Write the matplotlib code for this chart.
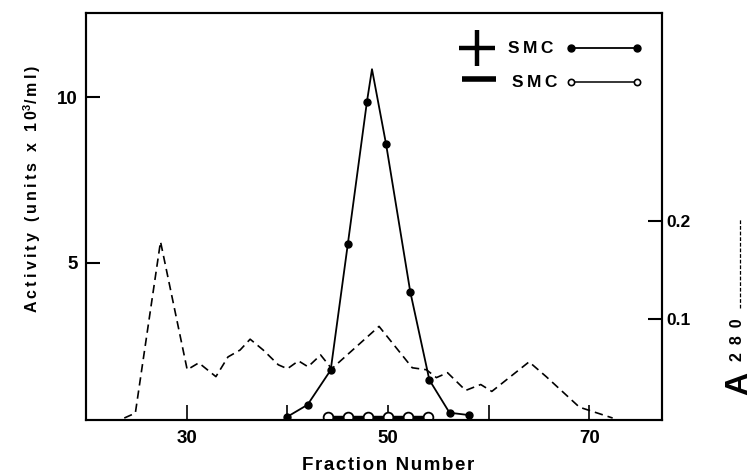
import matplotlib
matplotlib.use("Agg")
import matplotlib.pyplot as plt
from matplotlib.lines import Line2D
import numpy as np

plt.rcParams['font.family'] = ['Liberation Sans', 'DejaVu Sans']
plt.rcParams['font.weight'] = 'bold'
plt.rcParams['mathtext.fontset'] = 'custom'
plt.rcParams['mathtext.rm'] = 'Liberation Sans:bold'
plt.rcParams['mathtext.bf'] = 'Liberation Sans:bold'
plt.rcParams['mathtext.it'] = 'Liberation Sans:bold'

# +SMC activity (filled circles); peak vertex drawn without a marker
plus_x = [40, 42, 44.3, 46, 47.9, 49.8, 52.2, 54.1, 56.1, 58]
plus_y = [0.34, 0.70, 1.75, 5.56, 9.87, 8.58, 4.12, 1.45, 0.46, 0.39]
peak_x = 48.4
peak_y = 10.85

# -SMC activity (open circles)
minus_x = [44, 46, 48, 50, 52, 54]
minus_y = [0.34, 0.34, 0.34, 0.34, 0.34, 0.34]

# A280 profile (dashed, right axis)
a_x = [23.8, 24.9, 27.4, 30.05, 31.2, 32.9, 34.1, 35.3, 36.3, 37.6, 39.1, 40.0,
       41.1, 42.05, 43.3, 44.4, 49.1, 52.4, 53.8, 54.8, 55.9, 57.7, 59.2, 60.3,
       64.0, 65.7, 69.0, 72.3]
a_y = [0.0, 0.005, 0.179, 0.049, 0.056, 0.042, 0.062, 0.069, 0.080, 0.069, 0.054,
       0.050, 0.058, 0.052, 0.064, 0.050, 0.093, 0.051, 0.049, 0.041, 0.046, 0.028,
       0.034, 0.027, 0.057, 0.042, 0.011, 0.0]

x_ticks = [30, 40, 50, 60, 70]
x_ticklabels = ['30', '', '50', '', '70']
left_ticks = [5, 10]
right_ticks = [0.1, 0.2]


def spaced(s, sep='\u2009'):
    return sep.join(list(s))


fig = plt.figure(figsize=(7.53, 4.75), dpi=100)
ax = fig.add_axes([86/753, 1-420/475, 576/753, 407/475])
ax2 = ax.twinx()

order = np.argsort(plus_x + [peak_x])
lx = np.array(plus_x + [peak_x])[order]
ly = np.array(plus_y + [peak_y])[order]
ax.plot(lx, ly, color='black', lw=1.3, zorder=3)
ax.plot(plus_x, plus_y, 'o', color='black', ms=5, zorder=4)
ax.plot(minus_x, minus_y, '-', color='black', lw=2.5, zorder=3)
ax.plot(minus_x, minus_y, 'o', mfc='white', mec='black', mew=1.3, ms=7, zorder=5)

ax2.plot(a_x, a_y, color='black', lw=1.2, dashes=(5, 3))

ax.set_xlim(20, 77.2)
ax.set_ylim(0.24, 12.55)
ax2.set_ylim(-0.002, 0.411)

ax.set_xticks(x_ticks)
ax.set_xticklabels(x_ticklabels)
ax.set_yticks(left_ticks)
ax.set_yticklabels([str(t) for t in left_ticks])
ax2.set_yticks(right_ticks)
ax2.set_yticklabels(['0.1', '0.2'])

ax.tick_params(axis='x', direction='in', length=11, width=1.2, pad=7, labelsize=13.5)
ax.tick_params(axis='y', direction='in', length=10, width=1.5, pad=6, labelsize=13.5)
ax2.tick_params(axis='y', direction='in', length=10, width=1.5, pad=3, labelsize=12.5)
for a in (ax, ax2):
    for s in a.spines.values():
        s.set_linewidth(1.5)

# legend glyphs
ax.plot([0.679], [0.915], marker='+', ms=26, mew=3.2, color='black',
        transform=ax.transAxes, clip_on=False)
ax.plot([0.683], [0.838], marker='_', ms=24, mew=4, color='black',
        transform=ax.transAxes, clip_on=False)
ax.text(0.733, 0.914, spaced('SMC'), transform=ax.transAxes, fontsize=12.5,
        fontweight='bold', va='center', ha='left')
ax.text(0.740, 0.830, spaced('SMC'), transform=ax.transAxes, fontsize=12.5,
        fontweight='bold', va='center', ha='left')
ax.plot([0.842, 0.957], [0.914, 0.914], '-o', color='black', lw=1.3, ms=5,
        transform=ax.transAxes, clip_on=False)
ax.plot([0.842, 0.957], [0.830, 0.830], '-o', color='black', lw=1.1, ms=4.5,
        mfc='white', mew=1.2, transform=ax.transAxes, clip_on=False)

# axis labels
fig.text(388/753, 1-466/475, spaced('Fraction Number', '\u200a'), ha='center',
         va='center', fontsize=13.5, fontweight='bold')
fig.text(32/753, 1-189/475,
         spaced('Activity (units x 10') + r'$^{\mathbf{3}}$' + spaced('/ml)'),
         rotation=90, ha='center', va='center', fontsize=11.5, fontweight='bold')

fig.text(739/753, 1-383/475, 'A', rotation=90, ha='center', va='center',
         fontsize=23, fontweight='bold')
fig.text(738/753, 1-340/475, spaced('280', '\u2002'), rotation=90, ha='center',
         va='center', fontsize=11.5, fontweight='bold')
fig.add_artist(Line2D([740/753, 740/753], [1-308/475, 1-218/475], color='black',
                      lw=0.9, dashes=(3, 1.5), transform=fig.transFigure))

fig.savefig('out.png', dpi=100)
